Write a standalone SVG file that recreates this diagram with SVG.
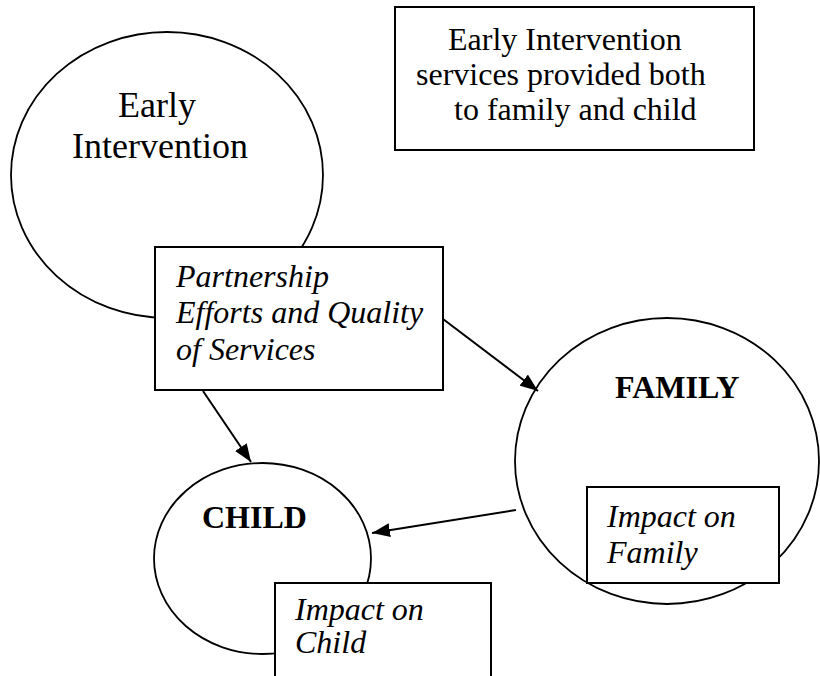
<svg xmlns="http://www.w3.org/2000/svg" width="820" height="676" viewBox="0 0 820 676">
<style>
.shape{fill:#fff;stroke:#000;stroke-width:2}
.ell{fill:#fff;stroke:#000;stroke-width:1.8}
.t{font-family:"Liberation Serif","Times New Roman",serif;fill:#000}
.n{font-size:32px}
.big{font-size:36px}
.i{font-size:32px;font-style:italic}
.b{font-size:32px;font-weight:bold}
.c{stroke:#000;stroke-width:2;fill:none}
</style>
<defs>
<marker id="ah" markerUnits="userSpaceOnUse" markerWidth="18" markerHeight="14" refX="18" refY="7" orient="auto">
<path d="M0,0 L18,7 L0,14 z" fill="#000"/>
</marker>
</defs>
<rect width="820" height="676" fill="#fff"/>
<g id="node-ei">
<ellipse class="ell" cx="167" cy="175" rx="156" ry="143"/>
<text class="t big" x="118" y="117">Early</text>
<text class="t big" x="72" y="158">Intervention</text>
</g>
<g id="node-note">
<rect class="shape" x="395" y="7" width="359" height="143"/>
<text class="t n" x="448" y="50">Early Intervention</text>
<text class="t n" x="416" y="85">services provided both</text>
<text class="t n" x="454" y="120">to family and child</text>
</g>
<g id="node-family">
<ellipse class="ell" cx="667" cy="461" rx="152" ry="143"/>
<text class="t b" x="615" y="398">FAMILY</text>
</g>
<g id="node-child">
<ellipse class="ell" cx="262.5" cy="558.5" rx="108.5" ry="95.5"/>
<text class="t b" x="202" y="528">CHILD</text>
</g>
<g id="node-partnership">
<rect class="shape" x="155" y="247" width="288" height="143"/>
<text class="t i" x="176" y="287">Partnership</text>
<text class="t i" x="176" y="323">Efforts and Quality</text>
<text class="t i" x="176" y="360">of Services</text>
</g>
<g id="node-impact-family">
<rect class="shape" x="587" y="487" width="192" height="96"/>
<text class="t i" x="607" y="527">Impact on</text>
<text class="t i" x="607" y="563">Family</text>
</g>
<g id="node-impact-child">
<rect class="shape" x="275" y="583" width="216" height="110"/>
<text class="t i" x="295" y="620">Impact on</text>
<text class="t i" x="295" y="653">Child</text>
</g>
<g id="connectors">
<line class="c" x1="203" y1="391" x2="251" y2="462" marker-end="url(#ah)"/>
<line class="c" x1="443" y1="319" x2="538" y2="391" marker-end="url(#ah)"/>
<line class="c" x1="516" y1="510" x2="372" y2="533" marker-end="url(#ah)"/>
</g>
</svg>
